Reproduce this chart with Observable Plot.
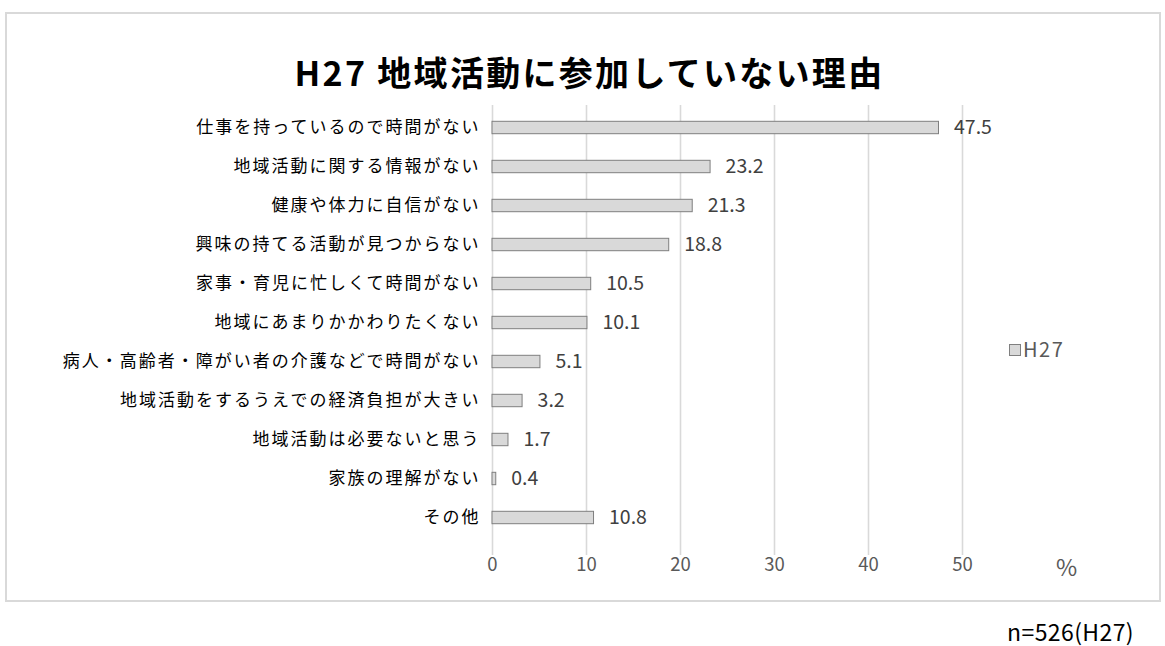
<!DOCTYPE html>
<html>
<head>
<meta charset="utf-8">
<script src="https://cdn.jsdelivr.net/npm/d3@7"></script>
<script src="https://cdn.jsdelivr.net/npm/@observablehq/plot@0.6"></script>
<style>
  html, body { margin: 0; padding: 0; background: #fff; }
  body { width: 1165px; height: 646px; position: relative; overflow: hidden;
         font-family: "Noto Sans CJK JP", "Noto Sans", sans-serif; }
  #frame { position: absolute; left: 5px; top: 12px; width: 1152px; height: 586px;
           border: 2px solid #d9d9d9; box-sizing: content-box; }
  #title { position: absolute; left: 0; width: 1165px; top: 48px; text-align: center;
           font-size: 34px; font-weight: bold; color: #000; letter-spacing: 2.3px; line-height: 48px;
           padding-left: 14px; box-sizing: border-box; }
  #legend { position: absolute; left: 1009px; top: 336px; font-size: 20px; color: #595959; line-height: 26px;
            letter-spacing: 1.5px; }
  #legend span.sw { display: inline-block; width: 10px; height: 10px; background: #d9d9d9;
                    border: 1px solid #7f7f7f; margin-right: 2px; vertical-align: 1px; }
  #pct { position: absolute; left: 1056px; top: 552px; font-size: 23px; color: #595959; line-height: 28px; }
  #note { position: absolute; right: 31px; top: 619px; font-size: 23px; color: #000; line-height: 24px;
          letter-spacing: 0.4px; }
  #chart { position: absolute; left: 0; top: 0; }
</style>
</head>
<body>
<div id="frame"></div>
<div id="chart"></div>
<div id="title">H27 地域活動に参加していない理由</div>
<div id="legend"><span class="sw"></span>H27</div>
<div id="pct">%</div>
<div id="note">n=526(H27)</div>
<script>
const categories = [
  "仕事を持っているので時間がない",
  "地域活動に関する情報がない",
  "健康や体力に自信がない",
  "興味の持てる活動が見つからない",
  "家事・育児に忙しくて時間がない",
  "地域にあまりかかわりたくない",
  "病人・高齢者・障がい者の介護などで時間がない",
  "地域活動をするうえでの経済負担が大きい",
  "地域活動は必要ないと思う",
  "家族の理解がない",
  "その他"
];
const values = [47.5, 23.2, 21.3, 18.8, 10.5, 10.1, 5.1, 3.2, 1.7, 0.4, 10.8];
const xTicks = [0, 10, 20, 30, 40, 50];

const data = categories.map((c, i) => ({category: c, value: values[i]}));

const chart = Plot.plot({
  width: 1165,
  height: 646,
  marginLeft: 492,
  marginRight: 203,
  marginTop: 105,
  marginBottom: 91,
  style: {fontFamily: '"Noto Sans CJK JP", "Noto Sans", sans-serif', background: "transparent"},
  x: {domain: [0, 50], axis: null},
  y: {domain: categories, range: [105.2, 540.8], padding: 0, axis: null},
  marks: [
    Plot.ruleX(xTicks, {stroke: "#d9d9d9", strokeWidth: 1.6}),
    Plot.barX(data, {x: "value", y: "category", fill: "#d9d9d9", stroke: "#7f7f7f", strokeWidth: 1,
      insetTop: 13.3, insetBottom: 13.3}),
    Plot.text(data, {x: "value", y: "category", text: d => d.value.toFixed(1), dx: 15, textAnchor: "start",
      fontSize: 19.5, fill: "#404040"}),
    Plot.text(data, {x: 0, y: "category", text: "category", dx: -12, textAnchor: "end",
      fontSize: 17, fill: "#000"}),
    Plot.text(xTicks, {x: d => d, frameAnchor: "bottom", text: d => String(d),
      dy: 15, fontSize: 18.5, fill: "#595959"})
  ]
});
// widen the category labels' spacing to match the reference's glyph advance
const groups = chart.querySelectorAll('g[aria-label="text"]');
if (groups[1]) groups[1].style.letterSpacing = "2px";
document.getElementById("chart").appendChild(chart);
</script>
</body>
</html>
